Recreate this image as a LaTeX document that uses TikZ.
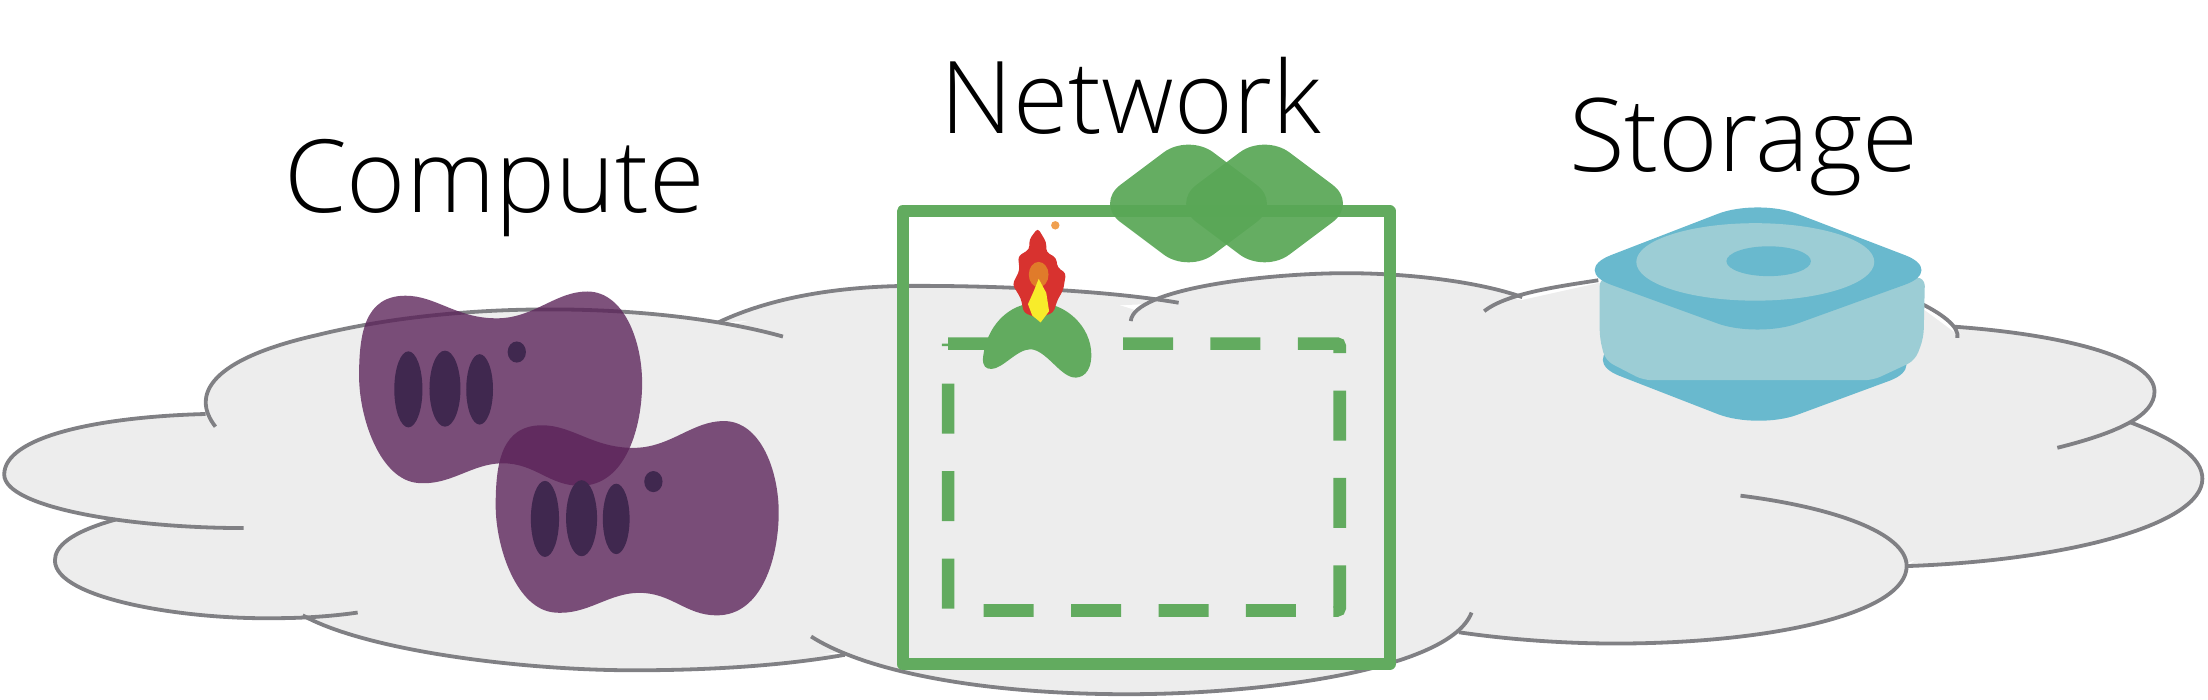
\documentclass[tikz,border=0pt]{standalone}
\usepackage{fontspec}
\setmainfont{Open Sans}
\newfontfamily\lightfont{Open Sans Light}
\definecolor{cloudfill}{HTML}{EDEDED}
\definecolor{cloudline}{HTML}{808084}
\definecolor{netgreen}{HTML}{62AB5F}
\definecolor{gemgreen}{HTML}{59A756}
\definecolor{vmpurple}{HTML}{5B2359}
\definecolor{vmdark}{HTML}{40284F}
\definecolor{diskdark}{HTML}{69B9CE}
\definecolor{disklight}{HTML}{9CCDD5}
\definecolor{flamered}{HTML}{D8322F}
\definecolor{flameorange}{HTML}{E07B2A}
\definecolor{flameyellow}{HTML}{F8EC2A}
\definecolor{sparkorange}{HTML}{F0A050}
\tikzset{
  cloudedge/.style={draw=cloudline,line width=2.7pt},
  cloudbody/.style={fill=cloudfill},
  titletext/.style={anchor=base,inner sep=0pt,text=black},
  vmslot/.style={fill=vmdark},
  gem/.style={fill=gemgreen,opacity=.93,rounded corners=22pt},
  computer/.pic={
    \fill[vmpurple,opacity=.79] (0,60) .. controls (0,30) and (4,3) .. (33,3)
      .. controls (55,3) and (70,20) .. (100,19)
      .. controls (125,18) and (140,0) .. (162,0)
      .. controls (188,0) and (201,35) .. (201,65)
      .. controls (201,95) and (190,138) .. (157,138)
      .. controls (135,138) and (125,122) .. (102,122)
      .. controls (80,122) and (65,138) .. (42,136)
      .. controls (15,134) and (0,90) .. (0,60) -- cycle;
    \fill[vmslot] (35,69.5) ellipse [x radius=10,y radius=27];
    \fill[vmslot] (61,69) ellipse [x radius=11,y radius=27];
    \fill[vmslot] (85.6,69.5) ellipse [x radius=9.5,y radius=25];
    \fill[vmslot] (112,43) ellipse [x radius=6.5,y radius=7.5];
  }
}
\newcommand\lobeA{(153,303) .. controls (135,280) and (150,255) .. (225,238) .. controls (330,212) and (470,215) .. (556,239)}
\newcommand\lobeB{(146,294) .. controls (70,296) and (3,310) .. (3,337) .. controls (3,360) and (90,375) .. (173,375)}
\newcommand\lobeC{(82,369) .. controls (50,378) and (39,388) .. (39,398) .. controls (39,425) and (130,440) .. (195,439) .. controls (220,439) and (240,437) .. (254,435)}
\newcommand\lobeD{(215,437) .. controls (260,462) and (370,476) .. (450,476) .. controls (510,476) and (560,472) .. (600,465)}
\newcommand\lobeE{(576,452) .. controls (620,480) and (710,493) .. (800,493) .. controls (900,493) and (1030,475) .. (1045,435)}
\newcommand\lobeF{(1036,449) .. controls (1070,454) and (1110,457) .. (1147,457) .. controls (1260,457) and (1354,435) .. (1354,402) .. controls (1354,378) and (1300,360) .. (1236,352)}
\newcommand\lobeG{(1354,402) .. controls (1470,398) and (1564,372) .. (1564,340) .. controls (1564,325) and (1545,312) .. (1513,300)}
\newcommand\lobeH{(1461,318) .. controls (1505,307) and (1530,295) .. (1530,278) .. controls (1530,255) and (1470,238) .. (1388,232)}
\newcommand\lobeI{(1361,214) .. controls (1378,222) and (1392,232) .. (1390,240)}
\newcommand\lobeJ{(1054,221) .. controls (1070,208) and (1110,203) .. (1135,199)}
\newcommand\lobeK{(803,228) .. controls (805,205) and (900,194) .. (956,194) .. controls (1000,194) and (1050,200) .. (1081,211)}
\newcommand\lobeL{(510,229) .. controls (550,210) and (600,203) .. (650,203) .. controls (720,203) and (790,207) .. (837,215)}
\begin{document}
\begin{tikzpicture}[x=1pt,y=-1pt]
\useasboundingbox (0,0) rectangle (1568,497.1);
% cloud body
\foreach \l in {\lobeA,\lobeB,\lobeC,\lobeD,\lobeE,\lobeF,\lobeG,\lobeH,\lobeK,\lobeL}{
  \path[cloudbody] \l -- cycle;
}
\path[cloudbody] (150,300) -- (300,226) -- (510,232) -- (650,206) -- (780,212) -- (812,222) -- (956,197)
  -- (1081,213) -- (1135,201) -- (1361,216) -- (1388,236) -- (1500,270) -- (1500,305) -- (1530,340) -- (1354,400)
  -- (1036,449) -- (800,490) -- (600,463) -- (450,474) -- (215,437) -- (120,400) -- (82,371) -- (146,296) -- cycle;
% cloud outline
\foreach \l in {\lobeA,\lobeB,\lobeC,\lobeD,\lobeE,\lobeF,\lobeG,\lobeH,\lobeI,\lobeJ,\lobeK,\lobeL}{
  \path[cloudedge] \l;
}
% network boxes
\draw[netgreen,line width=8.5pt,line join=round] (641,150) rectangle (986.8,471.7);
\draw[netgreen,line width=9pt,dash pattern=on 35.5pt off 26.6pt]
  (673.3,244) [rounded corners=2pt] -- (951.4,244) -- (951.4,433.5) [sharp corners] -- (673.3,433.5) -- cycle;
% router gems
\fill[gem] (778,144.5) -- (844,95) -- (910,144.5) -- (844,194) -- cycle;
\fill[gem] (832,144.5) -- (898,95) -- (964,144.5) -- (898,194) -- cycle;
% firewall
\fill[netgreen] (698,255) .. controls (700,232) and (716,215) .. (737,215)
  .. controls (757,215) and (775,232) .. (775,252)
  .. controls (775,265) and (768,269) .. (762,268)
  .. controls (752,266) and (743,249) .. (732,248)
  .. controls (722,248) and (712,262) .. (704,262)
  .. controls (700,262) and (698,260) .. (698,255) -- cycle;
\fill[flamered,rounded corners=2.5pt] (737,162) -- (743,172) -- (743,179) -- (750,183) -- (751,190)
  -- (757,194) -- (755,206) -- (751,213) -- (748,222) -- (737,226) -- (727,222) -- (725,212)
  -- (719,202) -- (724,192) -- (723,182) -- (731,177) -- (731,170) -- cycle;
\fill[flameorange] (737.6,195) ellipse [x radius=7,y radius=9];
\fill[flameyellow] (737.6,198) -- (743,208) -- (745,221) -- (739,229) -- (733,224) -- (730,216) -- (734,207) -- cycle;
\fill[sparkorange] (749.4,160) circle [radius=3];
% storage
\fill[diskdark,rounded corners=30pt] (1122,256) -- (1248,305) -- (1370,260) -- (1248,200) -- cycle;
\fill[disklight,rounded corners=6pt] (1136,197) -- (1367,197) -- (1366,240) -- (1360,256) -- (1330,270) -- (1167,270) -- (1140,256) -- (1136,240) -- cycle;
\fill[diskdark,rounded corners=30pt] (1116,192) -- (1248,141) -- (1381,192) -- (1248,240) -- cycle;
\fill[disklight] (1246.5,186) ellipse [x radius=84.5,y radius=27.5];
\fill[diskdark] (1256,185.5) ellipse [x radius=30,y radius=10.6];
% compute
\pic (vmone) at (255,207) {computer};
\pic (vmtwo) at (352,299) {computer};
% titles
\node[titletext,font=\lightfont\fontsize{71.8}{80}\selectfont] (compute) at (351,151) {Compute};
\node[titletext,font=\lightfont\fontsize{71.3}{80}\selectfont] (network) at (803,95) {Network};
\node[titletext,font=\lightfont\fontsize{72.2}{80}\selectfont] (storage) at (1238.5,122) {Storage};
\end{tikzpicture}
\end{document}
